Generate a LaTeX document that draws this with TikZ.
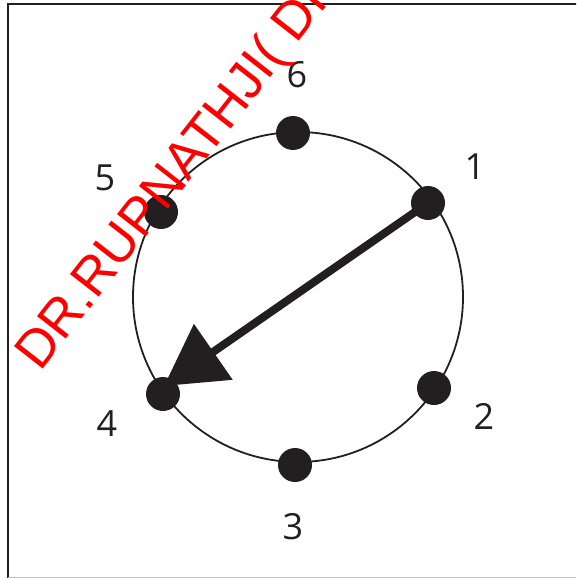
\documentclass[tikz,border=0pt]{standalone}
\usepackage{fontspec}
\setmainfont{Open Sans}
\newfontfamily\wmfont{Liberation Sans}
\usetikzlibrary{arrows.meta}
\definecolor{ink}{RGB}{35,31,32}
\definecolor{wmred}{RGB}{255,0,0}
\tikzset{
  dotnode/.style={circle, fill=ink, inner sep=0pt, minimum size=34pt},
  numlabel/.style={text=ink, font=\fontsize{36}{36}\selectfont, inner sep=0pt},
  ring/.style={draw=ink, line width=1.8pt},
  pointer/.style={draw=ink, line width=8pt, -{Triangle[length=60pt,width=66pt]}},
  watermark/.style={text=wmred, font=\wmfont\fontsize{53}{53}\selectfont, inner sep=0pt, anchor=base west, rotate=52},
  frameline/.style={draw=ink, line width=1.8pt}
}
\begin{document}
\begin{tikzpicture}[x=1pt,y=-1pt]
\useasboundingbox (0,0) rectangle (576,578);
\clip (0,0) rectangle (576,578);
% frame
\draw[frameline] (580,4.3) -- (8,4.3) -- (8,582);
\draw[draw=gray!50, line width=1.5pt] (8,577.3) -- (580,577.3);
% circle
\coordinate (c) at (298,297);
\draw[ring] (c) circle[radius=165];
% arrow
\coordinate (tip) at (164,386);
\node[dotnode] (d1) at (428,203) {};
\draw[pointer] (d1.center) -- (tip);
% dots
\node[dotnode] (d2) at (434,388) {};
\node[dotnode] (d3) at (295,465) {};
\node[dotnode] (d4) at (163,394) {};
\node[dotnode] (d5) at (161,212) {};
\node[dotnode] (d6) at (293,133) {};
% labels
\node[numlabel] (l1) at (475,167) {1};
\node[numlabel] (l2) at (484,416) {2};
\node[numlabel] (l3) at (293,527) {3};
\node[numlabel] (l4) at (107,424) {4};
\node[numlabel] (l5) at (105,178) {5};
\node[numlabel] (l6) at (297,75) {6};
% watermark
\node[watermark] (wm) at (40,373) {DR.RUPNATHJI( DR};
\end{tikzpicture}
\end{document}
